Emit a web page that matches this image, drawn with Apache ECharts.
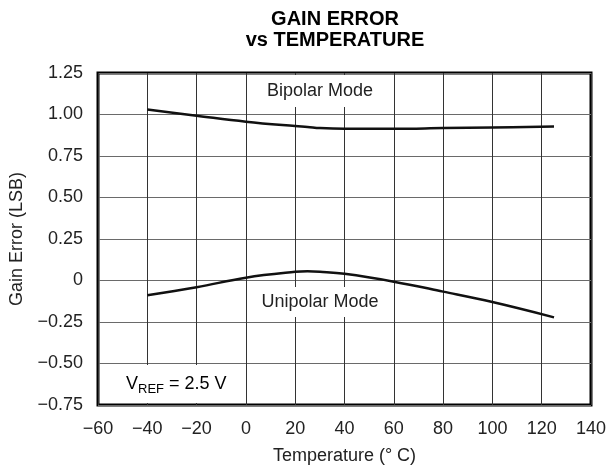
<!DOCTYPE html>
<html>
<head>
<meta charset="utf-8">
<script src="https://cdn.jsdelivr.net/npm/echarts@6/dist/echarts.min.js"></script>
<style>
  html, body { margin: 0; padding: 0; background: #fff; }
  #chart { width: 606px; height: 470px; }
</style>
</head>
<body>
<div id="chart"></div>
<script>
// values
const temps = [-40, -20, 0, 20, 25, 30, 40, 60, 80, 100, 125]
const bipolar = [1.03, 0.993, 0.957, 0.93, 0.925, 0.918, 0.914, 0.914, 0.918, 0.922, 0.928]
const unipolar = [-0.089, -0.041, 0.017, 0.052, 0.055, 0.052, 0.04, -0.007, -0.067, -0.13, -0.222]
const xTicks = [-60, -40, -20, 0, 20, 40, 60, 80, 100, 120, 140]
const yTicks = [-0.75, -0.5, -0.25, 0, 0.25, 0.5, 0.75, 1.0, 1.25]

const font = '"Liberation Sans", Arial, sans-serif'
const minus = (s) => s.replace('-', '\u2212')

const chart = echarts.init(document.getElementById('chart'), null, { renderer: 'canvas' })

chart.setOption({
  animation: false,
  grid: {
    left: 98, right: 15, top: 73, bottom: 65,
    outerBoundsMode: 'none',
    containLabel: false,
    show: true, borderColor: '#000', borderWidth: 3, backgroundColor: 'transparent',
  },
  xAxis: {
    type: 'value',
    min: xTicks[0],
    max: xTicks[xTicks.length - 1],
    interval: 20,
    name: 'Temperature (° C)',
    nameLocation: 'middle',
    nameGap: 42,
    nameTextStyle: { fontFamily: font, fontSize: 18, color: '#222' },
    axisLine: { show: false },
    axisTick: { show: false },
    axisLabel: {
      margin: 15, fontFamily: font, fontSize: 18, color: '#222',
      formatter: (v) => minus(String(v)),
    },
    splitLine: { show: true, lineStyle: { color: '#333', width: 1 } },
  },
  yAxis: {
    type: 'value',
    min: yTicks[0],
    max: yTicks[yTicks.length - 1],
    interval: 0.25,
    name: 'Gain Error (LSB)',
    nameLocation: 'middle',
    nameGap: 72,
    nameTextStyle: { fontFamily: font, fontSize: 18, color: '#222' },
    axisLine: { show: false },
    axisTick: { show: false },
    axisLabel: {
      margin: 15, fontFamily: font, fontSize: 18, color: '#222',
      formatter: (v) => (v === 0 ? '0' : minus(v.toFixed(2))),
    },
    splitLine: { show: true, lineStyle: { color: '#6a6a6a', width: 1 } },
  },
  series: [
    {
      name: 'Bipolar Mode',
      type: 'line',
      data: temps.map((t, i) => [t, bipolar[i]]),
      smooth: 0.4,
      symbol: 'none',
      lineStyle: { color: '#111', width: 2.5 },
      z: 3,
    },
    {
      name: 'Unipolar Mode',
      type: 'line',
      data: temps.map((t, i) => [t, unipolar[i]]),
      smooth: 0.4,
      symbol: 'none',
      lineStyle: { color: '#111', width: 2.5 },
      z: 3,
    },
  ],
  graphic: [
    {
      type: 'text', x: 335, y: 9, z: 10,
      style: {
        text: 'GAIN ERROR\nvs TEMPERATURE', align: 'center', verticalAlign: 'top',
        font: 'bold 20px ' + font, fill: '#000', lineHeight: 21,
      },
    },
    {
      type: 'text', x: 320, y: 91, z: 10,
      style: {
        text: 'Bipolar Mode', align: 'center', verticalAlign: 'middle',
        font: '18px ' + font, fill: '#222', backgroundColor: '#fff', padding: [7, 4],
      },
    },
    {
      type: 'text', x: 320, y: 302, z: 10,
      style: {
        text: 'Unipolar Mode', align: 'center', verticalAlign: 'middle',
        font: '18px ' + font, fill: '#222', backgroundColor: '#fff', padding: [6, 4],
      },
    },
    {
      type: 'text', x: 123, y: 384, z: 10,
      style: {
        text: '{v|V}{s|REF}{v| = 2.5 V}', verticalAlign: 'middle',
        backgroundColor: '#fff', padding: [7, 3],
        rich: {
          v: { fontFamily: font, fontSize: 18, color: '#222' },
          s: { fontFamily: font, fontSize: 13, color: '#222', padding: [11, 0, 0, 0] },
        },
      },
    },
  ],
})
</script>
</body>
</html>
